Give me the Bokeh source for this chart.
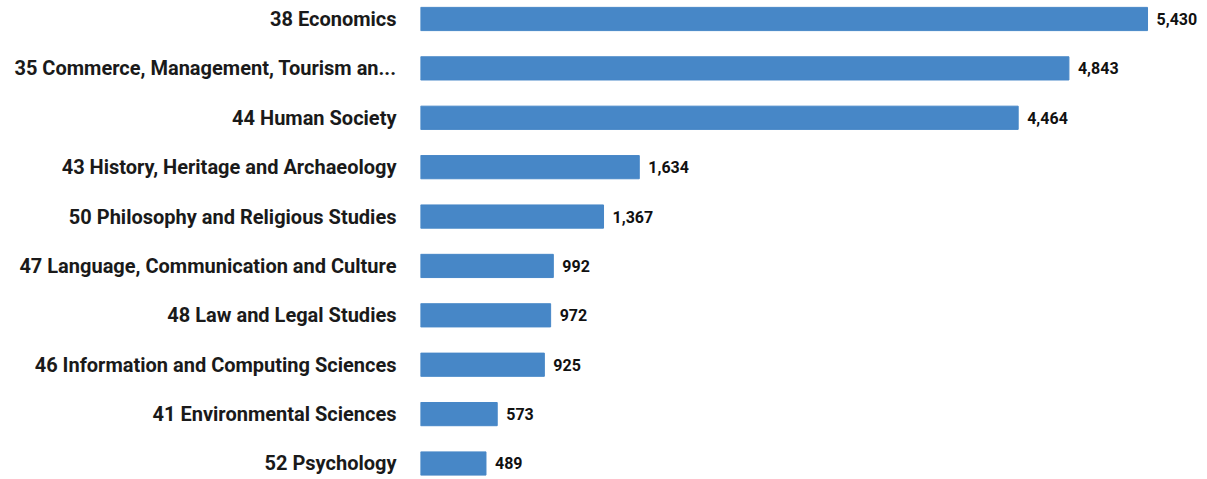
from bokeh.plotting import figure
from bokeh.models import ColumnDataSource, Range1d, FixedTicker, LabelSet
from bokeh.core.properties import value
from bokeh.embed import file_html
from bokeh.resources import INLINE

categories = [
    "38 Economics",
    "35 Commerce, Management, Tourism an...",
    "44 Human Society",
    "43 History, Heritage and Archaeology",
    "50 Philosophy and Religious Studies",
    "47 Language, Communication and Culture",
    "48 Law and Legal Studies",
    "46 Information and Computing Sciences",
    "41 Environmental Sciences",
    "52 Psychology",
]
values = [5430, 4843, 4464, 1634, 1367, 992, 972, 925, 573, 489]

pos = list(range(len(categories)))
src = ColumnDataSource(dict(
    y=pos,
    v=values,
    lbl=[f"{v:,}" for v in values],
))

p = figure(width=1207, height=479, output_backend="svg", toolbar_location=None,
           x_range=Range1d(0, 5878), y_range=Range1d(9.324, -0.3745),
           min_border_left=420, min_border_right=0, min_border_top=0, min_border_bottom=0)
p.hbar(y="y", right="v", left=0, height=0.47, source=src, color="#4787c7")
p.add_layout(LabelSet(x="v", y="y", text="lbl", source=src, x_offset=9, y_offset=0,
                      text_baseline="middle", text_font=value("Roboto"), text_font_style="bold",
                      text_font_size="16px", text_color="#111111"))

p.xaxis.visible = False
p.xgrid.visible = False
p.ygrid.visible = False
p.outline_line_color = None
ya = p.yaxis[0]
ya.ticker = FixedTicker(ticks=pos)
ya.major_label_overrides = {i: c for i, c in enumerate(categories)}
ya.axis_line_color = None
ya.major_tick_line_color = None
ya.minor_tick_line_color = None
ya.major_tick_out = 0
ya.major_tick_in = 0
ya.major_label_standoff = 24
ya.major_label_text_font = "Roboto"
ya.major_label_text_font_style = "bold"
ya.major_label_text_font_size = "20px"
ya.major_label_text_color = "#1a1a1a"

open("out.html", "w").write(file_html(p, INLINE))
